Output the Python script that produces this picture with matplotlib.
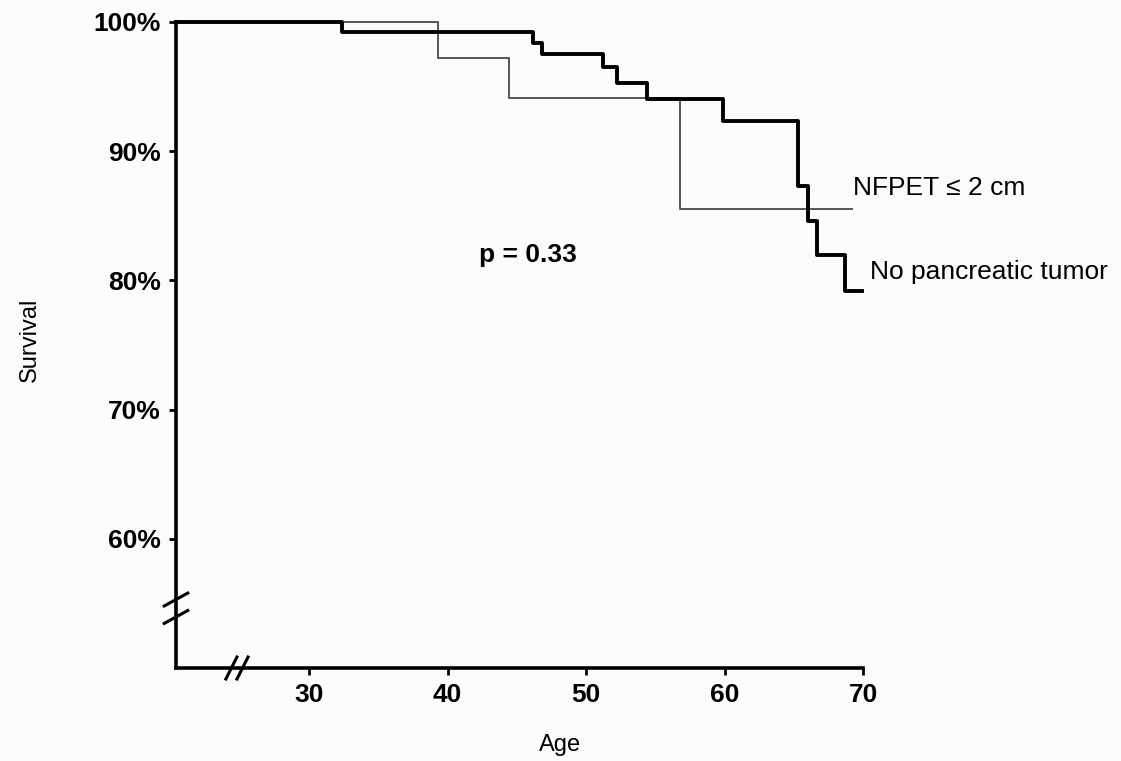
import matplotlib
matplotlib.use("Agg")
import matplotlib.pyplot as plt

plt.rcParams['font.family'] = ['Liberation Sans Narrow', 'Liberation Sans', 'DejaVu Sans']

# Kaplan-Meier curves
edadSinTumor = [20.4, 32.4, 46.2, 46.8, 51.2, 52.2, 54.4, 59.9, 65.3, 66.0, 66.7, 68.7, 69.9]
survSinTumor = [100, 99.2, 98.4, 97.5, 96.5, 95.3, 94.0, 92.3, 87.3, 84.6, 82.0, 79.2, 79.2]

edadNfpet = [20.4, 39.3, 44.4, 56.8, 69.2]
survNfpet = [100, 97.2, 94.1, 85.5, 85.5]

xticks = [30, 40, 50, 60, 70]
yticks = [60, 70, 80, 90, 100]
ylabels = ["60%", "70%", "80%", "90%", "100%"]

fig = plt.figure(figsize=(11.21, 7.61), dpi=100, facecolor="#fbfbfb")
ax = fig.add_axes([0.157, 0.1222, 0.613, 0.849])
ax.set_facecolor("#fbfbfb")

ax.plot(edadNfpet, survNfpet, drawstyle="steps-post", color="#555555", lw=1.4, clip_on=False)
ax.plot(edadSinTumor, survSinTumor, drawstyle="steps-post", color="black", lw=2.8, clip_on=False)

ax.set_xlim(20.4, 70)
ax.set_ylim(50, 100)
ax.set_xticks(xticks)
ax.set_xticklabels([str(x) for x in xticks])
ax.set_yticks(yticks)
ax.set_yticklabels(ylabels)
ax.tick_params(axis="both", labelsize=19, width=2, length=5, pad=6, color="black")
for lab in ax.get_xticklabels() + ax.get_yticklabels():
    lab.set_fontweight("bold")

for s in ["top", "right"]:
    ax.spines[s].set_visible(False)
for s in ["left", "bottom"]:
    ax.spines[s].set_linewidth(2.6)

# cortes de eje
for cx in (24.4, 25.2):
    ax.plot([cx - 0.4, cx + 0.4], [50 - 0.85, 50 + 0.85], color="black", lw=2.2, clip_on=False)
for cy in (55.3, 53.95):
    ax.plot([20.4 - 0.85, 20.4 + 0.85], [cy - 0.5, cy + 0.5], color="black", lw=2.2, clip_on=False)

ax.text(69.3, 87.15, "NFPET ≤ 2 cm", fontsize=19, va="center", ha="left", clip_on=False)
ax.text(70.5, 80.65, "No pancreatic tumor", fontsize=19, va="center", ha="left", clip_on=False)
ax.text(42.3, 82.0, "p = 0.33", fontsize=19, fontweight="bold", va="center", ha="left")

fig.text(30 / 1121, 1 - 340 / 761, "Survival", rotation=90, fontsize=17, ha="center", va="center")
fig.text(560 / 1121, 1 - 745 / 761, "Age", fontsize=17, ha="center", va="center")

fig.savefig("out.png", dpi=100, facecolor=fig.get_facecolor())
